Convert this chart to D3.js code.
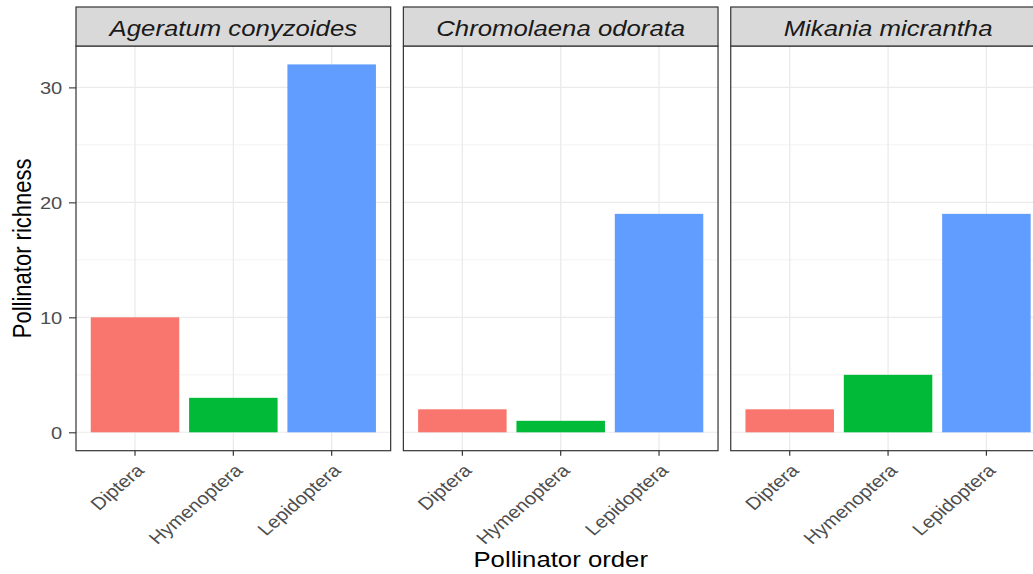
<!DOCTYPE html>
<html>
<head>
<meta charset="utf-8">
<script src="https://cdn.jsdelivr.net/npm/d3@7"></script>
<style>
  html, body { margin: 0; padding: 0; background: #fff; }
  svg { display: block; }
  text { font-family: "Liberation Sans", Arial, sans-serif; }
</style>
</head>
<body>
<svg id="chart" width="1033" height="574"></svg>
<script>
// ---- data ----
const plants = ["Ageratum conyzoides", "Chromolaena odorata", "Mikania micrantha"];
const orders = ["Diptera", "Hymenoptera", "Lepidoptera"];
const ageratumValues = [10, 3, 32];
const chromolaenaValues = [2, 1, 19];
const mikaniaValues = [2, 5, 19];
const yTicks = [0, 10, 20, 30];
const yMinorTicks = [5, 15, 25];
const orderColors = ["#F8766D", "#00BA38", "#619CFF"];
const yLabel = "Pollinator richness";
const xLabel = "Pollinator order";

const seriesByPlant = [ageratumValues, chromolaenaValues, mikaniaValues];
const rows = [];
plants.forEach((p, i) => orders.forEach((o, j) => rows.push({plant: p, order: o, value: seriesByPlant[i][j]})));

// ---- layout ----
const SX = 1.17;              // horizontal stretch of the reference
const panelTop = 46, panelBottom = 450.7;
const stripTop = 7;
const panelsLeft = 76, panelsRight = 1045.4, panelGap = 12.7;
const panelW = (panelsRight - panelsLeft - panelGap * 2) / 3;

const svg = d3.select("#chart");

const fx = d3.scaleBand().domain(plants).range([panelsLeft, panelsRight])
  .paddingInner(panelGap / (panelW + panelGap)).paddingOuter(0);

const yMax = d3.max(rows, d => d.value);
const yExp = yMax * 0.05;
const y = d3.scaleLinear().domain([0 - yExp, yMax + yExp]).range([panelBottom, panelTop]);

const color = d3.scaleOrdinal().domain(orders).range(orderColors);

plants.forEach(plant => {
  const x0 = fx(plant), w = fx.bandwidth();
  const x = d3.scaleBand().domain(orders).range([x0, x0 + w]).paddingInner(0.1).paddingOuter(0.15);
  const g = svg.append("g");

  g.append("rect").attr("x", x0).attr("y", panelTop).attr("width", w).attr("height", panelBottom - panelTop)
    .attr("fill", "#fff");

  g.selectAll(".ymin").data(yMinorTicks).join("line")
    .attr("x1", x0).attr("x2", x0 + w)
    .attr("y1", d => y(d)).attr("y2", d => y(d))
    .attr("stroke", "#EBEBEB").attr("stroke-width", 0.6);
  g.selectAll(".ymaj").data(yTicks).join("line")
    .attr("x1", x0).attr("x2", x0 + w)
    .attr("y1", d => y(d)).attr("y2", d => y(d))
    .attr("stroke", "#EBEBEB").attr("stroke-width", 1.1);
  g.selectAll(".xmaj").data(orders).join("line")
    .attr("x1", d => x(d) + x.bandwidth() / 2).attr("x2", d => x(d) + x.bandwidth() / 2)
    .attr("y1", panelTop).attr("y2", panelBottom)
    .attr("stroke", "#EBEBEB").attr("stroke-width", 1.3);

  g.selectAll(".bar").data(rows.filter(r => r.plant === plant)).join("rect")
    .attr("x", d => x(d.order))
    .attr("width", x.bandwidth())
    .attr("y", d => y(d.value))
    .attr("height", d => y(0) - y(d.value))
    .attr("fill", d => color(d.order));

  g.append("rect").attr("x", x0).attr("y", panelTop).attr("width", w).attr("height", panelBottom - panelTop)
    .attr("fill", "none").attr("stroke", "#333333").attr("stroke-width", 1.2);

  g.append("rect").attr("x", x0).attr("y", stripTop).attr("width", w).attr("height", panelTop - stripTop)
    .attr("fill", "#D9D9D9").attr("stroke", "#333333").attr("stroke-width", 1.2);
  g.append("text")
    .attr("transform", `translate(${x0 + w / 2},${35.5}) scale(${SX},1)`)
    .attr("text-anchor", "middle")
    .attr("font-size", 22).attr("font-style", "italic").attr("fill", "#1A1A1A")
    .text(plant);

  const xAxis = d3.axisBottom(x).tickSize(5).tickSizeOuter(0).tickPadding(0);
  const ax = g.append("g").attr("transform", `translate(0,${panelBottom})`).call(xAxis);
  ax.select(".domain").remove();
  ax.selectAll(".tick line").attr("stroke", "#333333").attr("stroke-width", 1.2);
  ax.selectAll(".tick text").remove();
  ax.selectAll(".tick").append("text")
    .attr("transform", `translate(0,${12}) scale(${SX},1) rotate(-45)`)
    .attr("text-anchor", "end")
    .attr("dy", "0.72em")
    .attr("font-size", 17.4)
    .attr("fill", "#4D4D4D")
    .text(d => d);
});

const yAxis = d3.axisLeft(y).tickValues(yTicks).tickSize(7).tickSizeOuter(0).tickPadding(0);
const ay = svg.append("g").attr("transform", `translate(${panelsLeft},0)`).call(yAxis);
ay.select(".domain").remove();
ay.selectAll(".tick line").attr("stroke", "#333333").attr("stroke-width", 1.1);
ay.selectAll(".tick text").remove();
ay.selectAll(".tick").append("text")
  .attr("transform", `translate(-13.7,0) scale(${SX},1)`)
  .attr("text-anchor", "end")
  .attr("dy", "0.36em")
  .attr("font-size", 17.2)
  .attr("fill", "#4D4D4D")
  .text(d => d);

svg.append("text")
  .attr("transform", `translate(${(panelsLeft + panelsRight) / 2},566.5) scale(${SX},1)`)
  .attr("text-anchor", "middle").attr("font-size", 22).attr("fill", "#000")
  .text(xLabel);
svg.append("text")
  .attr("transform", `translate(31,${(panelTop + panelBottom) / 2}) scale(${SX},1) rotate(-90)`)
  .attr("text-anchor", "middle").attr("font-size", 22).attr("fill", "#000")
  .text(yLabel);
</script>
</body>
</html>
